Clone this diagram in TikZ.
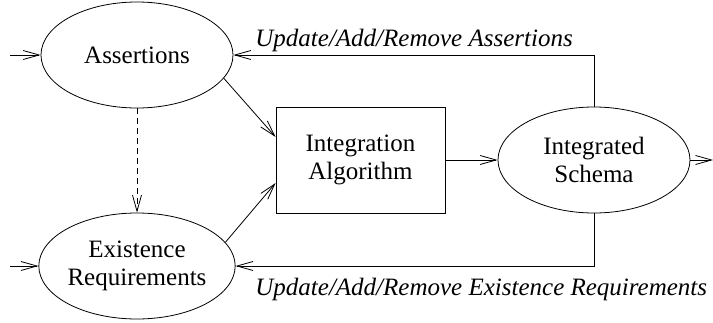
\documentclass[tikz,border=0pt]{standalone}
\usepackage{fontspec}
\setmainfont{Liberation Serif}
\usetikzlibrary{shapes.geometric,arrows.meta}
\begin{document}
\begin{tikzpicture}[x=1pt,y=-1pt,
  line width=0.8pt,
  tip/.style={-{Straight Barb[length=16pt,width=9pt,line width=0.8pt]}},
  oval/.style={draw,ellipse,minimum width=192pt,minimum height=106pt,inner sep=0pt,align=center,font=\fontsize{25}{27.5}\selectfont},
  box/.style={draw,rectangle,minimum width=169pt,minimum height=106pt,inner sep=0pt,align=center,font=\fontsize{25}{27.5}\selectfont},
  lbl/.style={anchor=base west,inner sep=0pt,font=\fontsize{25}{27.5}\selectfont\itshape}]
\useasboundingbox (0,0) rectangle (713,322);
\node[oval] (A) at (137,55) {Assertions};
\node[oval] (E) at (137,266) {Existence\\Requirements};
\node[box] (B) at (360.5,160) {Integration\\Algorithm};
\node[oval] (S) at (594,160) {Integrated\\Schema};
\coordinate (inA) at (10,55);
\coordinate (inE) at (10,266);
\coordinate (out) at (713,160);
\coordinate (B1) at ([yshift=23pt]B.west);
\coordinate (B2) at ([yshift=-23pt]B.west);
\draw[tip] (inA) -- (A.west);
\draw[tip] (inE) -- (E.west);
\draw[tip] (S.east) -- (out);
\draw[tip] (B.east) -- (S.west);
\draw[tip] (A.-15) -- (B1);
\draw[tip] (E.15) -- (B2);
\draw[tip,dashed,dash pattern=on 6pt off 4pt] (A.south) -- (E.north);
\draw[tip] (S.north) |- (A.east);
\draw[tip] (S.south) |- (E.east);
\node[lbl] (L1) at (255,46) {Update/Add/Remove Assertions};
\node[lbl] (L2) at (255,295) {Update/Add/Remove Existence Requirements};
\end{tikzpicture}
\end{document}
